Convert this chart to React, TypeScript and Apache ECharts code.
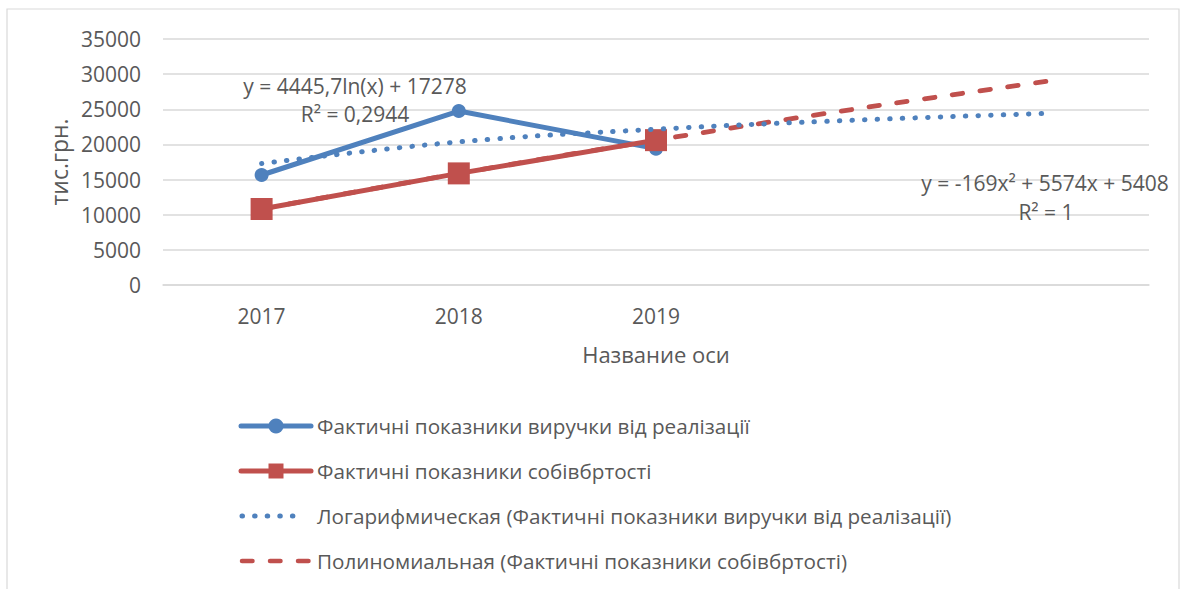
import React, { useEffect, useRef } from 'react';
import * as echarts from 'echarts';

// ---- data ----
const categories = ['2017', '2018', '2019', '', ''];
const revenue = [15650, 24750, 19400];
const cost = [10813, 15880, 20609];
const logTrend = [17278, 20360, 22162, 23441, 24433];
const polyTrend = [10813, 15880, 20609, 25000, 29053];
const yMin = 0;
const yMax = 35000;
const yStep = 5000;
const seriesNames = [
  'Фактичні показники виручки від реалізації',
  'Фактичні показники собівбртості',
  'Логарифмическая (Фактичні показники виручки від реалізації)',
  'Полиномиальная (Фактичні показники собівбртості)',
];
const logEquation = ['y = 4445,7ln(x) + 17278', 'R² = 0,2944'];
const polyEquation = ['y = -169x² + 5574x + 5408', 'R² = 1'];
const xAxisName = 'Название оси';
const yAxisName = 'тис.грн.';

const BLUE = '#4F81BD';
const RED = '#C0504D';
const TEXT = '#595959';
const GRID = '#D9D9D9';
const FONT = '"Open Sans", sans-serif';
const FS = 21;
const LFS = 20.7;

export default function App() {
  const ref = useRef<HTMLDivElement>(null);

  useEffect(() => {
    if (!ref.current) return;
    const chart = echarts.init(ref.current, undefined, { renderer: 'svg' });

    const legendY = [426, 471, 516, 561];
    const legendGraphics: any[] = [];
    // item 1: blue line with circle
    legendGraphics.push({
      type: 'line', shape: { x1: 241, y1: legendY[0], x2: 311, y2: legendY[0] },
      style: { stroke: BLUE, lineWidth: 5, lineCap: 'round' },
    });
    legendGraphics.push({
      type: 'circle', shape: { cx: 276, cy: legendY[0], r: 7.5 }, style: { fill: BLUE },
    });
    // item 2: red line with square
    legendGraphics.push({
      type: 'line', shape: { x1: 241, y1: legendY[1], x2: 311, y2: legendY[1] },
      style: { stroke: RED, lineWidth: 5, lineCap: 'round' },
    });
    legendGraphics.push({
      type: 'rect', shape: { x: 268.5, y: legendY[1] - 7.5, width: 15, height: 15 }, style: { fill: RED },
    });
    // item 3: dotted blue
    legendGraphics.push({
      type: 'line', shape: { x1: 242, y1: legendY[2], x2: 305, y2: legendY[2] },
      style: { stroke: BLUE, lineWidth: 5, lineCap: 'round', lineDash: [0.5, 12.1] },
    });
    // item 4: dashed red
    legendGraphics.push({
      type: 'line', shape: { x1: 242, y1: legendY[3], x2: 310, y2: legendY[3] },
      style: { stroke: RED, lineWidth: 4.5, lineCap: 'round', lineDash: [10.5, 17.5] },
    });
    seriesNames.forEach((n, i) => {
      legendGraphics.push({
        type: 'text', x: 317, y: legendY[i],
        style: { text: n, fill: TEXT, font: `${LFS}px ${FONT}`, verticalAlign: 'middle', align: 'left' },
      });
    });

    const eqText = (text: string, x: number, y: number) => ({
      type: 'text', x, y,
      style: { text, fill: TEXT, font: `${FS}px ${FONT}`, align: 'center', verticalAlign: 'middle' },
      z: 100,
    });

    chart.setOption({
      animation: false,
      backgroundColor: '#ffffff',
      textStyle: { fontFamily: FONT },
      grid: { left: 163, right: 35, top: 39, bottom: 304, containLabel: false },
      xAxis: {
        type: 'category',
        data: categories,
        boundaryGap: true,
        axisLine: { show: true, lineStyle: { color: GRID, width: 1.5 } },
        axisTick: { show: false },
        axisLabel: { color: TEXT, fontSize: FS, fontFamily: FONT, margin: 20 },
        name: xAxisName,
        nameLocation: 'middle',
        nameGap: 58,
        nameTextStyle: { color: TEXT, fontSize: FS + 1, fontFamily: FONT },
      },
      yAxis: {
        type: 'value',
        min: yMin,
        max: yMax,
        interval: yStep,
        axisLine: { show: false },
        axisTick: { show: false },
        axisLabel: {
          color: TEXT, fontSize: FS, fontFamily: FONT, margin: 22,
          formatter: (v: number) => String(v),
        },
        splitLine: { lineStyle: { color: GRID, width: 1.5 } },
        name: yAxisName,
        nameLocation: 'middle',
        nameRotate: 90,
        nameGap: 92,
        nameTextStyle: { color: TEXT, fontSize: FS + 2, fontFamily: FONT },
      },
      series: [
        {
          name: seriesNames[0],
          type: 'line',
          data: revenue,
          symbol: 'circle',
          symbolSize: 14,
          lineStyle: { color: BLUE, width: 5, cap: 'round', join: 'round' },
          itemStyle: { color: BLUE },
          z: 3,
        },
        {
          name: seriesNames[1],
          type: 'line',
          data: cost,
          symbol: 'rect',
          symbolSize: 22,
          lineStyle: { color: RED, width: 5, cap: 'round', join: 'round' },
          itemStyle: { color: RED },
          z: 3,
        },
        {
          name: seriesNames[2],
          type: 'line',
          data: logTrend,
          smooth: 0.4,
          symbol: 'none',
          lineStyle: { color: BLUE, width: 5, type: [0.5, 12.1], cap: 'round' },
          z: 4,
        },
        {
          name: seriesNames[3],
          type: 'line',
          data: polyTrend,
          smooth: 0.4,
          symbol: 'none',
          lineStyle: { color: RED, width: 4.8, type: [10.5, 17.5], cap: 'round' },
          z: 2,
        },
      ],
      graphic: [
        {
          type: 'rect', shape: { x: 7, y: 9, width: 1172, height: 600 },
          style: { fill: 'none', stroke: GRID, lineWidth: 1.2 }, silent: true, z: -10,
        },
        eqText(logEquation[0], 355, 86),
        eqText(logEquation[1], 355, 114),
        eqText(polyEquation[0], 1045, 183),
        eqText(polyEquation[1], 1046, 212),
        ...legendGraphics,
      ],
    });

    return () => chart.dispose();
  }, []);

  return (
    <div
      ref={ref}
      style={{ position: 'fixed', left: 0, top: 0, width: 1184, height: 589, background: '#fff' }}
    />
  );
}
